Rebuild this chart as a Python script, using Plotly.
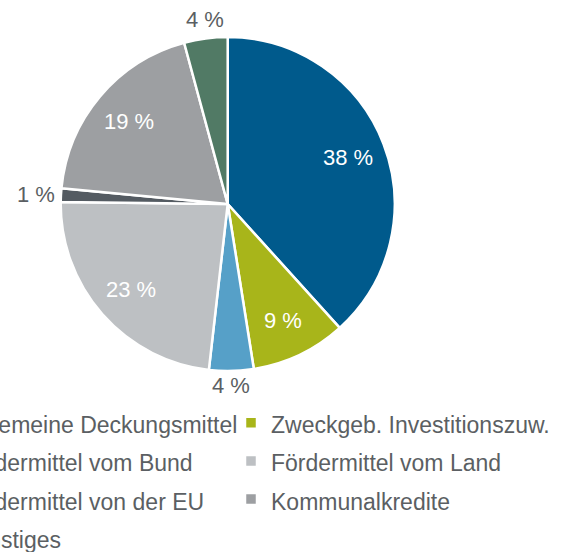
import math
import plotly.graph_objects as go

# ---- data ----
categories = [
    "Allgemeine Deckungsmittel",
    "Zweckgeb. Investitionszuw.",
    "Fördermittel vom Bund",
    "Fördermittel vom Land",
    "Fördermittel von der EU",
    "Kommunalkredite",
    "Sonstiges",
]
shares = [38.3, 9.2, 4.3, 23.4, 1.3, 19.3, 4.2]
label_inside = [True, True, False, True, False, True, False]
colors = ["#005A8C", "#A8B51A", "#56A0C8", "#BDC0C3", "#545B62", "#9D9FA2", "#517A65"]

# ---- layout geometry (pixels) ----
W, H = 700, 552
CX, CY, R = 227.7, 204.0, 167.0
M_T = CY - R
M_B = H - (CY + R)
PLOT_H = 2 * R
FONT = "Arial, Liberation Sans, sans-serif"
TXT_GRAY = "#5B5F63"
LEG_FONT_PX = 23
LEG_STEP = 311
LEG_COL2_X = 231
LEG_TOP = 397.5

legend_names = [f'<span style="font-size:{LEG_FONT_PX}px">{c}</span>' for c in categories]

fig = go.Figure(
    go.Pie(
        labels=legend_names,
        values=shares,
        sort=False,
        direction="clockwise",
        rotation=0,
        marker=dict(colors=colors, line=dict(color="white", width=2.5)),
        textinfo="none",
        hoverinfo="percent",
        domain=dict(x=[(CX - R) / W, (CX + R) / W], y=[0, 1]),
    )
)

# percentage labels derived from the slice angles
total = sum(shares)
cum = 0.0
annotations = []
for v, inside in zip(shares, label_inside):
    mid = (cum + v / 2) / total * 2 * math.pi
    cum += v
    dx, dy = math.sin(mid), -math.cos(mid)
    txt = f"{round(v / total * 100)} %"
    if inside:
        rr = 0.77 * R
        xa, ya, col = "center", "middle", "white"
    else:
        rr = 1.025 * R
        col = TXT_GRAY
        if abs(dx) > abs(dy):
            xa, ya = ("right" if dx < 0 else "left"), "middle"
        else:
            xa, ya = "center", ("bottom" if dy < 0 else "top")
            if dy > 0:
                rr = 1.0 * R
    px, py = CX + dx * rr, CY + dy * rr
    annotations.append(
        dict(
            x=px / W, y=(H - M_B - py) / PLOT_H, xref="paper", yref="paper",
            text=txt, showarrow=False, xanchor=xa, yanchor=ya,
            font=dict(size=22, color=col, family=FONT),
        )
    )

fig.update_layout(
    width=W,
    height=H,
    margin=dict(l=0, r=0, t=M_T, b=M_B, autoexpand=False),
    paper_bgcolor="white",
    plot_bgcolor="white",
    font=dict(family=FONT, color=TXT_GRAY),
    annotations=annotations,
    showlegend=True,
    legend=dict(
        orientation="h",
        x=(LEG_COL2_X - LEG_STEP) / W,
        xanchor="left",
        y=(H - M_B - LEG_TOP) / PLOT_H,
        yanchor="top",
        entrywidth=LEG_STEP - 45,
        entrywidthmode="pixels",
        font=dict(size=27, color=TXT_GRAY, family=FONT),
        bgcolor="rgba(0,0,0,0)",
        traceorder="normal",
        # blank, near-zero-height title: only widens the legend box so the
        # right-hand column is not clipped
        title=dict(text="\u00a0" * 2600, side="top", font=dict(size=1)),
    ),
)

fig.write_html(
    "out.html",
    post_script="document.body.style.margin='0';document.body.style.overflow='hidden';",
)
